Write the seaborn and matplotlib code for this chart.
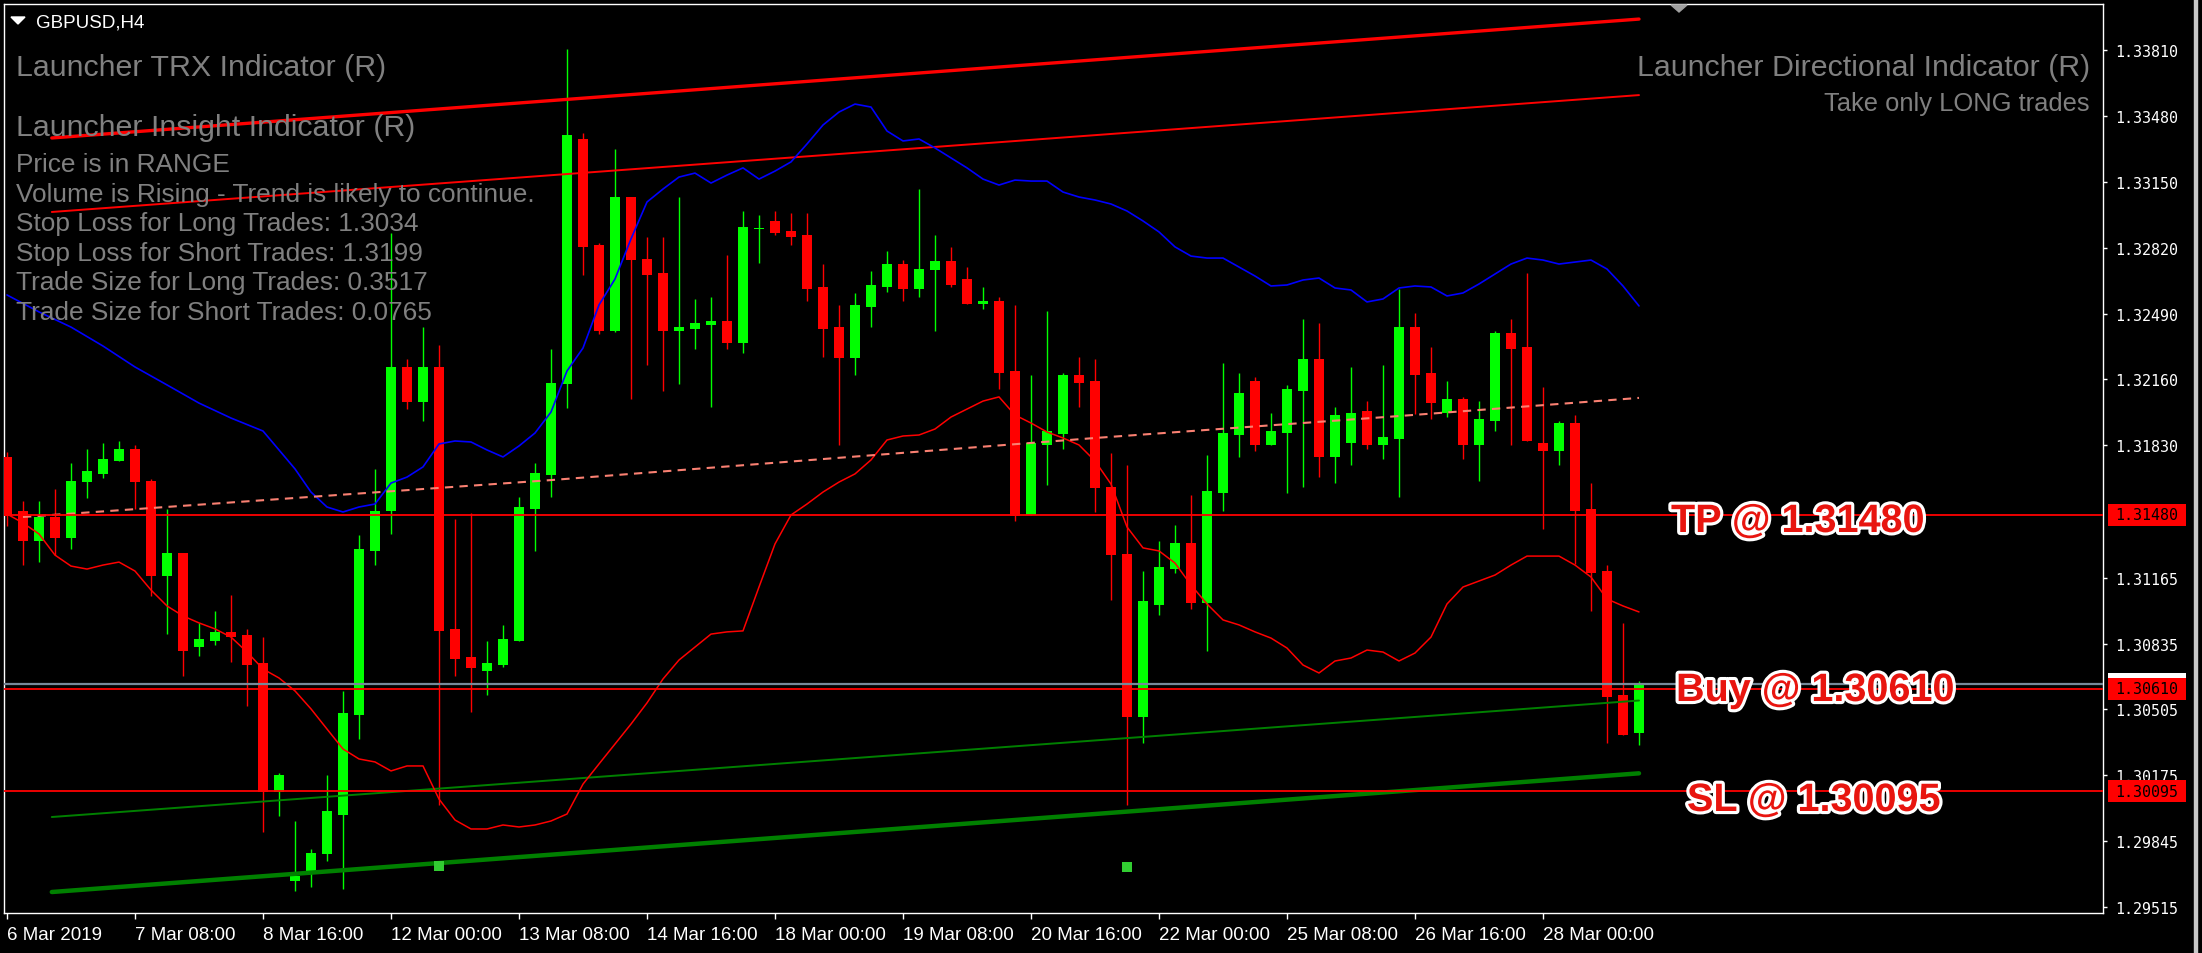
import numpy as np
import pandas as pd
import matplotlib
matplotlib.use("Agg")
import matplotlib.pyplot as plt
import matplotlib.patheffects as pe
import matplotlib.transforms as mtransforms
from matplotlib.patches import Rectangle, Polygon
import seaborn as sns

# GBPUSD H4 candles, 6 Mar 2019 -> 29 Mar 2019
opens = [1.31771, 1.31500, 1.31350, 1.31470, 1.31365, 1.31645, 1.31686, 1.31751, 1.31811, 1.31650,
         1.31174, 1.31290, 1.30818, 1.30848, 1.30894, 1.30878, 1.30738, 1.30091, 1.29645, 1.29690,
         1.29781, 1.29976, 1.30477, 1.31300, 1.31500, 1.32222, 1.32046, 1.32222, 1.30909, 1.30768,
         1.30698, 1.30728, 1.30848, 1.31510, 1.31681, 1.32137, 1.33365, 1.32834, 1.32402, 1.33074,
         1.32763, 1.32693, 1.32402, 1.32412, 1.32433, 1.32453, 1.32342, 1.32914, 1.32954, 1.32904,
         1.32884, 1.32623, 1.32422, 1.32267, 1.32523, 1.32623, 1.32738, 1.32613, 1.32708, 1.32753,
         1.32663, 1.32538, 1.32553, 1.32202, 1.31480, 1.31831, 1.31886, 1.32182, 1.32152, 1.31620,
         1.31285, 1.30467, 1.31029, 1.31209, 1.31340, 1.31039, 1.31590, 1.31881, 1.32152, 1.31831,
         1.31891, 1.32102, 1.32262, 1.31771, 1.31841, 1.32001, 1.31831, 1.31861, 1.32422, 1.32192,
         1.31991, 1.32062, 1.31831, 1.31951, 1.32392, 1.32322, 1.31841, 1.31801, 1.31941, 1.31510,
         1.31199, 1.30578, 1.30387]
highs = [1.31796, 1.31550, 1.31550, 1.31610, 1.31741, 1.31811, 1.31841, 1.31851, 1.31831, 1.31661,
         1.31510, 1.31290, 1.30939, 1.30999, 1.31079, 1.30909, 1.30868, 1.30187, 1.29946, 1.29806,
         1.30177, 1.30598, 1.31380, 1.31711, 1.32894, 1.32262, 1.32422, 1.32332, 1.31460, 1.31490,
         1.30848, 1.30929, 1.31570, 1.31741, 1.32312, 1.33816, 1.33395, 1.32844, 1.33315, 1.33074,
         1.32874, 1.32874, 1.33074, 1.32563, 1.32573, 1.32783, 1.33004, 1.32984, 1.33004, 1.32994,
         1.32994, 1.32738, 1.32533, 1.32593, 1.32703, 1.32803, 1.32758, 1.33114, 1.32884, 1.32824,
         1.32723, 1.32623, 1.32573, 1.32533, 1.32182, 1.32503, 1.32192, 1.32272, 1.32262, 1.31791,
         1.31731, 1.31199, 1.31350, 1.31430, 1.31580, 1.31781, 1.32242, 1.32192, 1.32172, 1.31991,
         1.32132, 1.32463, 1.32443, 1.32021, 1.32222, 1.32051, 1.32232, 1.32613, 1.32493, 1.32322,
         1.32152, 1.32072, 1.32051, 1.32402, 1.32463, 1.32693, 1.32122, 1.31951, 1.31981, 1.31640,
         1.31229, 1.30939, 1.30648]
lows = [1.31425, 1.31229, 1.31244, 1.31280, 1.31310, 1.31565, 1.31666, 1.31751, 1.31510, 1.31074,
        1.30883, 1.30673, 1.30773, 1.30828, 1.30743, 1.30523, 1.29891, 1.29971, 1.29595, 1.29615,
        1.29746, 1.29605, 1.30357, 1.31229, 1.31385, 1.32011, 1.31951, 1.30026, 1.30673, 1.30492,
        1.30578, 1.30718, 1.30848, 1.31300, 1.31570, 1.32016, 1.32683, 1.32387, 1.32397, 1.32062,
        1.32232, 1.32102, 1.32137, 1.32312, 1.32021, 1.32312, 1.32292, 1.32743, 1.32884, 1.32834,
        1.32553, 1.32272, 1.31831, 1.32182, 1.32422, 1.32598, 1.32553, 1.32573, 1.32402, 1.32623,
        1.32538, 1.32513, 1.32112, 1.31450, 1.31480, 1.31630, 1.31811, 1.32021, 1.31495, 1.31054,
        1.30026, 1.30337, 1.30979, 1.31189, 1.31009, 1.30798, 1.31500, 1.31771, 1.31801, 1.31831,
        1.31590, 1.31620, 1.31670, 1.31640, 1.31731, 1.31811, 1.31761, 1.31570, 1.31986, 1.31961,
        1.31971, 1.31761, 1.31650, 1.31901, 1.31831, 1.31851, 1.31410, 1.31731, 1.31234, 1.30999,
        1.30337, 1.30377, 1.30327]
closes = [1.31475, 1.31350, 1.31470, 1.31365, 1.31650, 1.31701, 1.31761, 1.31811, 1.31645, 1.31174,
          1.31290, 1.30798, 1.30858, 1.30894, 1.30868, 1.30728, 1.30091, 1.30177, 1.29670, 1.29786,
          1.29996, 1.30487, 1.31310, 1.31500, 1.32222, 1.32046, 1.32222, 1.30899, 1.30758, 1.30713,
          1.30738, 1.30858, 1.31520, 1.31691, 1.32142, 1.33385, 1.32824, 1.32402, 1.33074, 1.32758,
          1.32683, 1.32402, 1.32422, 1.32443, 1.32453, 1.32342, 1.32924, 1.32919, 1.32894, 1.32874,
          1.32613, 1.32412, 1.32267, 1.32533, 1.32633, 1.32738, 1.32613, 1.32713, 1.32753, 1.32633,
          1.32538, 1.32553, 1.32192, 1.31475, 1.31841, 1.31901, 1.32182, 1.32142, 1.31615, 1.31280,
          1.30467, 1.31049, 1.31219, 1.31340, 1.31039, 1.31600, 1.31891, 1.32092, 1.31831, 1.31901,
          1.32112, 1.32262, 1.31771, 1.31981, 1.31991, 1.31831, 1.31871, 1.32422, 1.32182, 1.32041,
          1.32062, 1.31831, 1.31961, 1.32392, 1.32312, 1.31851, 1.31801, 1.31941, 1.31500, 1.31189,
          1.30568, 1.30377, 1.30633]

# lower envelope (thin red curve), one value per bar
lower_band = [1.31485, 1.31440, 1.31385, 1.31279, 1.31224, 1.31209, 1.31229, 1.31244, 1.31199, 1.31104,
              1.31024, 1.30974, 1.30939, 1.30909, 1.30868, 1.30793, 1.30708, 1.30663, 1.30598, 1.30508,
              1.30407, 1.30307, 1.30257, 1.30242, 1.30197, 1.30222, 1.30222, 1.30056, 1.29951, 1.29906,
              1.29906, 1.29926, 1.29916, 1.29926, 1.29946, 1.29981, 1.30131, 1.30232, 1.30332, 1.30432,
              1.30538, 1.30658, 1.30753, 1.30818, 1.30883, 1.30894, 1.30899, 1.31119, 1.31335, 1.31480,
              1.31535, 1.31595, 1.31645, 1.31686, 1.31756, 1.31856, 1.31876, 1.31881, 1.31911, 1.31971,
              1.32011, 1.32051, 1.32072, 1.31981, 1.31941, 1.31896, 1.31866, 1.31831, 1.31751, 1.31635,
              1.31420, 1.31315, 1.31300, 1.31239, 1.31129, 1.31034, 1.30954, 1.30929, 1.30894, 1.30863,
              1.30813, 1.30728, 1.30688, 1.30748, 1.30763, 1.30803, 1.30793, 1.30748, 1.30788, 1.30868,
              1.31034, 1.31119, 1.31149, 1.31179, 1.31229, 1.31274, 1.31274, 1.31274, 1.31229, 1.31169,
              1.31059, 1.31024, 1.30994]

# upper envelope (blue curve)
blue_bar = [0, 2, 4, 6, 8, 10, 12, 14, 16] + list(range(17, 103))
blue_val = [1.32583, 1.32498, 1.32422, 1.32327, 1.32222, 1.32132, 1.32041, 1.31966, 1.31901,
            1.31806, 1.31711, 1.31595, 1.31520, 1.31495, 1.31520, 1.31535, 1.31640, 1.31670, 1.31721,
            1.31836, 1.31851, 1.31846, 1.31806, 1.31771, 1.31826, 1.31891, 1.31996, 1.32202, 1.32317,
            1.32533, 1.32663, 1.32864, 1.33049, 1.33114, 1.33174, 1.33194, 1.33144, 1.33184, 1.33220,
            1.33164, 1.33204, 1.33250, 1.33340, 1.33435, 1.33500, 1.33540, 1.33525, 1.33405, 1.33355,
            1.33365, 1.33320, 1.33270, 1.33220, 1.33164, 1.33134, 1.33159, 1.33154, 1.33154, 1.33099,
            1.33074, 1.33059, 1.33039, 1.33004, 1.32954, 1.32899, 1.32824, 1.32778, 1.32768, 1.32768,
            1.32723, 1.32678, 1.32628, 1.32633, 1.32658, 1.32668, 1.32618, 1.32608, 1.32548, 1.32563,
            1.32618, 1.32628, 1.32623, 1.32578, 1.32593, 1.32638, 1.32688, 1.32738, 1.32768, 1.32758,
            1.32738, 1.32748, 1.32758, 1.32713, 1.32628, 1.32528]

# slow average (salmon dashes)
slow_bar = [1, 34, 68, 87, 102]
slow_val = [1.31470, 1.31655, 1.31866, 1.31976, 1.32067]

# regression channels: start / end bar and price
chan_bar = [2.8, 102]
chan_top_outer = [1.33370, 1.33966]
chan_top_inner = [1.32999, 1.33585]
chan_bot_inner = [1.29966, 1.30550]
chan_bot_outer = [1.29590, 1.30185]

# signal squares
mark_bar = [27, 70]
mark_val = [1.29720, 1.29715]

tp_price, buy_price, sl_price = 1.31480, 1.30610, 1.30095

ytick_vals = [1.33810, 1.33480, 1.33150, 1.32820, 1.32490, 1.32160, 1.31830,
              1.31165, 1.30835, 1.30505, 1.30175, 1.29845, 1.29515]
xtick_bars = [0, 8, 16, 24, 32, 40, 48, 56, 64, 72, 80, 88, 96]
xtick_labels = ["6 Mar 2019", "7 Mar 08:00", "8 Mar 16:00", "12 Mar 00:00", "13 Mar 08:00",
                "14 Mar 16:00", "18 Mar 00:00", "19 Mar 08:00", "20 Mar 16:00", "22 Mar 00:00",
                "25 Mar 08:00", "26 Mar 16:00", "28 Mar 00:00"]

info_lines = ["Price is in RANGE",
              "Volume is Rising - Trend is likely to continue.",
              "Stop Loss for Long Trades: 1.3034",
              "Stop Loss for Short Trades: 1.3199",
              "Trade Size for Long Trades: 0.3517",
              "Trade Size for Short Trades: 0.0765"]

sns.set_theme(style="dark", rc={"axes.facecolor": "black", "figure.facecolor": "black"})
plt.rcParams["font.family"] = ["Liberation Sans", "DejaVu Sans"]

W, H = 2202, 954
def fx(x):
    return x / W
def fy(y):
    return 1 - y / H

fig = plt.figure(figsize=(W / 100, H / 100), dpi=100)
ax = fig.add_axes([fx(4), fy(914), (2103 - 4) / W, (914 - 5) / H])
ax.set_facecolor("black")

df = pd.DataFrame({"bar": np.arange(len(opens)), "open": opens, "high": highs,
                   "low": lows, "close": closes})
col = np.where(df["close"] >= df["open"], "#00ff00", "#ff0000")

# candles
ax.vlines(df["bar"], df["low"], df["high"], colors=col, lw=1.0, zorder=2)
body = (df["close"] - df["open"]).to_numpy()
body = np.where(np.abs(body) < 0.00004, 0.00004, body)
ax.bar(df["bar"], body, bottom=df["open"], width=0.62, color=col, linewidth=0, zorder=3)

# channels
ax.plot(chan_bar, chan_top_outer, color="#ff0000", lw=2.4, zorder=4)
ax.plot(chan_bar, chan_top_inner, color="#ff0000", lw=1.4, zorder=4)
ax.plot(chan_bar, chan_bot_inner, color="#008000", lw=1.4, zorder=4)
ax.plot(chan_bar, chan_bot_outer, color="#008000", lw=3.2, zorder=4)

# envelopes and average
sns.lineplot(x=blue_bar, y=blue_val, color="#0000ff", lw=1.2, ax=ax, zorder=5)
sns.lineplot(x=df["bar"], y=lower_band, color="#ff0000", lw=1.1, ax=ax, zorder=5)
ax.plot(slow_bar, slow_val, color="#fa8072", lw=1.5, ls=(0, (4, 3)), zorder=5)

sns.scatterplot(x=mark_bar, y=mark_val, marker="s", s=50, color="#32cd32",
                linewidth=0, ax=ax, zorder=5)

# trade levels
ax.axhline(closes[-1], color="#778899", lw=1.6, zorder=6)
for p in (tp_price, buy_price, sl_price):
    ax.axhline(p, color="#ff0000", lw=1.3, zorder=6)

ax.set_xlim(-0.1875, 131.0)
ax.set_ylim(1.294848, 1.340416)

# axes look
for s in ax.spines.values():
    s.set_color("white")
    s.set_linewidth(1.0)
ax.grid(False)
ax.yaxis.tick_right()
ax.set_yticks(ytick_vals)
ax.set_yticklabels([f"{v:.5f}" for v in ytick_vals], family="DejaVu Sans Mono", fontsize=10.8)
ax.tick_params(axis="y", colors="white", direction="out", length=3, width=1, pad=5.5, right=True)
ax.set_xticks(xtick_bars)
ax.set_xticklabels(xtick_labels, fontsize=13.5, ha="left")
ax.tick_params(axis="x", colors="white", direction="out", length=4.5, width=1, pad=5, bottom=True)
ax.set_xlabel("")
ax.set_ylabel("")

# price boxes on the right scale
bt = mtransforms.blended_transform_factory(ax.transAxes, ax.transData)
box_h = 22 * (ax.get_ylim()[1] - ax.get_ylim()[0]) / 909
box_x = (2108 - 4) / 2099
box_w = 78 / 2099
ax.add_patch(Rectangle((box_x, closes[-1] - box_h / 2), box_w, box_h, transform=bt,
                       facecolor="white", edgecolor="none", clip_on=False, zorder=9))
for p in (tp_price, buy_price, sl_price):
    ax.add_patch(Rectangle((box_x, p - box_h / 2), box_w, box_h, transform=bt,
                           facecolor="#ff0000", edgecolor="none", clip_on=False, zorder=10))
    ax.text(box_x + box_w / 2, p, f"{p:.5f}", transform=bt, ha="center", va="center",
            family="DejaVu Sans Mono", fontsize=10.8, color="black", zorder=11, clip_on=False)

# indicator texts
grey = "#808080"
fig.text(fx(16), fy(76), "Launcher TRX Indicator (R)", color=grey, fontsize=21.9, va="baseline", zorder=0)
fig.text(fx(16), fy(136), "Launcher Insight Indicator (R)", color=grey, fontsize=21.9, va="baseline", zorder=0)
for i, line in enumerate(info_lines):
    fig.text(fx(16), fy(172 + 29.6 * i), line, color=grey, fontsize=18.9, va="baseline", zorder=0)
fig.text(fx(2090), fy(76), "Launcher Directional Indicator (R)", color=grey, fontsize=21.9,
         va="baseline", ha="right", zorder=0)
fig.text(fx(2090), fy(111), "Take only LONG trades", color=grey, fontsize=18.4,
         va="baseline", ha="right", zorder=0)

# trade labels
halo = [pe.withStroke(linewidth=4.5, foreground="white")]
for x, y, label in [(1671, 533, f"TP @ {tp_price:.5f}"),
                    (1676, 702, f"Buy @ {buy_price:.5f}"),
                    (1687, 812, f"SL @ {sl_price:.5f}")]:
    fig.text(fx(x), fy(y), label, color="#e8150f", fontsize=28.5, fontweight="bold",
             va="baseline", path_effects=halo, zorder=20)

# window header
fig.text(fx(36), fy(28), "GBPUSD,H4", color="white", fontsize=13.5, va="baseline")
fig.add_artist(Polygon([(fx(11), fy(18)), (fx(25), fy(18)), (fx(18), fy(25))],
                       closed=True, transform=fig.transFigure, color="white"))
fig.add_artist(Polygon([(fx(1671), fy(6)), (fx(1687), fy(6)), (fx(1679), fy(13))],
                       closed=True, transform=fig.transFigure, color="#a0a0a0"))
fig.add_artist(Rectangle((fx(2194), 0), 3 / W, 1, transform=fig.transFigure,
                         color="#c8c8c8"))

fig.savefig("out.png", dpi=100, facecolor="black")
